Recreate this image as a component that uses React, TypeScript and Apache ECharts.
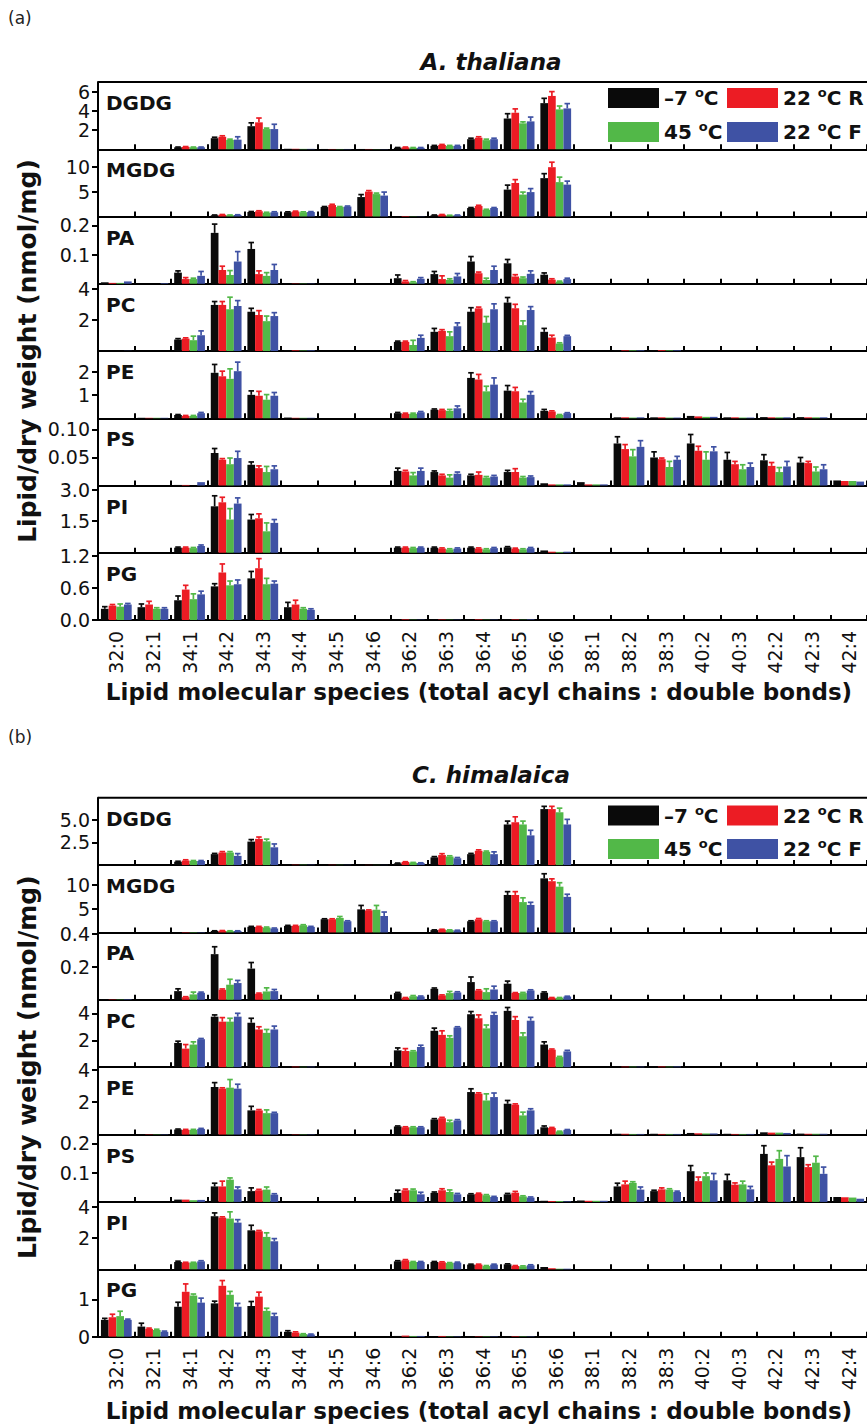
import React, { useEffect, useRef } from 'react';
import * as echarts from 'echarts';

const categories = ['32:0','32:1','34:1','34:2','34:3','34:4','34:5','34:6','36:2','36:3','36:4','36:5','36:6','38:1','38:2','38:3','40:2','40:3','42:2','42:3','42:4'];
const seriesNames = ['–7 °C', '22 °C R', '45 °C', '22 °C F'];
const lipidClasses = ['DGDG', 'MGDG', 'PA', 'PC', 'PE', 'PS', 'PI', 'PG'];
const colors = ['#0a0a0a', '#ec1c24', '#52b848', '#3f52a4'];

// ---------- A. thaliana (rows: -7 °C, 22 °C R, 45 °C, 22 °C F; columns: categories) ----------
const aDGDG = [
  [0,0,0.2,1.15,2.4,0.05,0.03,0.03,0.15,0.35,1.05,3.2,4.8,0,0,0,0,0,0,0,0],
  [0,0,0.25,1.3,2.8,0.05,0.03,0.03,0.2,0.45,1.2,3.8,5.55,0,0,0,0,0,0,0,0],
  [0,0,0.2,0.97,2.1,0.04,0.03,0.02,0.15,0.35,0.95,2.7,4.15,0,0,0,0,0,0,0,0],
  [0,0,0.2,1.0,2.1,0.04,0.03,0.02,0.15,0.35,1.05,2.9,4.25,0,0,0,0,0,0,0,0],
];
const aDGDGErr = [
  [0,0,0.03,0.1,0.35,0,0,0,0.03,0.05,0.1,0.5,0.5,0,0,0,0,0,0,0,0],
  [0,0,0.03,0.1,0.45,0,0,0,0.03,0.05,0.1,0.4,0.45,0,0,0,0,0,0,0,0],
  [0,0,0.03,0.08,0.1,0,0,0,0.03,0.05,0.1,0.15,0.35,0,0,0,0,0,0,0,0],
  [0,0,0.03,0.3,0.5,0,0,0,0.03,0.05,0.1,0.45,0.5,0,0,0,0,0,0,0,0],
];
const aMGDG = [
  [0,0,0,0.25,0.9,0.85,1.9,3.9,0.05,0.25,1.7,5.4,7.7,0,0,0,0,0,0,0,0],
  [0,0,0,0.35,1.05,1.0,2.3,5.0,0.1,0.35,2.1,6.7,9.9,0,0,0,0,0,0,0,0],
  [0,0,0,0.25,0.75,0.85,1.9,4.5,0.05,0.2,1.35,4.4,6.9,0,0,0,0,0,0,0,0],
  [0,0,0,0.3,0.85,0.9,2.0,4.2,0.05,0.25,1.7,4.9,6.4,0,0,0,0,0,0,0,0],
];
const aMGDGErr = [
  [0,0,0,0.05,0.1,0.08,0.1,0.5,0,0.05,0.1,0.9,0.9,0,0,0,0,0,0,0,0],
  [0,0,0,0.05,0.1,0.08,0.15,0.2,0,0.05,0.15,0.7,1.0,0,0,0,0,0,0,0,0],
  [0,0,0,0.05,0.1,0.08,0.1,0.2,0,0.05,0.1,0.5,1.0,0,0,0,0,0,0,0,0],
  [0,0,0,0.05,0.1,0.08,0.1,0.7,0,0.05,0.1,0.7,0.7,0,0,0,0,0,0,0,0],
];
const aPA = [
  [0.005,0,0.038,0.174,0.119,0.002,0,0.001,0.019,0.033,0.076,0.07,0.031,0,0,0,0,0,0,0,0],
  [0.003,0,0.016,0.047,0.033,0.001,0,0,0.008,0.016,0.036,0.025,0.014,0,0,0,0,0,0,0,0],
  [0.003,0,0.016,0.03,0.027,0.001,0,0,0.005,0.013,0.013,0.019,0.007,0,0,0,0,0,0,0,0],
  [0.008,0.002,0.027,0.076,0.047,0.001,0,0,0.017,0.025,0.047,0.034,0.016,0,0,0,0,0,0,0,0],
];
const aPAErr = [
  [0,0,0.006,0.03,0.022,0,0,0,0.011,0.009,0.017,0.013,0.006,0,0,0,0,0,0,0,0],
  [0,0,0.005,0.013,0.011,0,0,0,0.003,0.011,0.004,0.006,0.003,0,0,0,0,0,0,0,0],
  [0,0,0.003,0.015,0.011,0,0,0,0.002,0.004,0.006,0.004,0.002,0,0,0,0,0,0,0,0],
  [0,0,0.015,0.034,0.019,0,0,0,0.004,0.01,0.013,0.01,0.003,0,0,0,0,0,0,0,0],
];
const aPC = [
  [0,0,0.74,2.98,2.54,0.05,0,0,0.59,1.24,2.54,3.13,1.24,0,0.05,0.05,0,0,0,0,0],
  [0,0,0.8,2.98,2.33,0.04,0,0,0.59,1.3,2.76,2.76,0.87,0,0.04,0.05,0,0,0,0,0],
  [0,0,0.7,2.7,1.93,0.03,0,0,0.39,0.96,1.83,1.67,0.48,0,0.04,0.04,0,0,0,0,0],
  [0.01,0,1.02,2.91,2.26,0.04,0,0,0.85,1.6,2.7,2.65,0.96,0,0.04,0.04,0,0,0,0,0],
];
const aPCErr = [
  [0,0,0.06,0.22,0.22,0,0,0,0.05,0.22,0.26,0.33,0.22,0,0,0,0,0,0,0,0],
  [0,0,0.05,0.22,0.28,0,0,0,0.05,0.08,0.08,0.26,0.15,0,0,0,0,0,0,0,0],
  [0,0,0.26,0.78,0.33,0,0,0,0.3,0.28,0.4,0.28,0.05,0,0,0,0,0,0,0,0],
  [0,0,0.28,0.35,0.22,0,0,0,0.17,0.22,0.35,0.22,0.05,0,0,0,0,0,0,0,0],
];
const aPE = [
  [0,0.02,0.14,1.96,1.01,0.03,0,0,0.22,0.37,1.74,1.19,0.32,0,0.04,0.04,0.1,0.04,0.05,0.05,0],
  [0,0.02,0.1,1.81,0.97,0.02,0,0,0.19,0.35,1.67,1.16,0.29,0,0.04,0.04,0.08,0.04,0.04,0.04,0],
  [0,0.02,0.1,1.7,0.8,0.02,0,0,0.19,0.32,1.16,0.68,0.14,0,0.03,0.03,0.06,0.03,0.04,0.04,0],
  [0,0.02,0.22,2.03,0.97,0.02,0,0,0.26,0.43,1.45,1.01,0.22,0,0.04,0.03,0.06,0.03,0.04,0.04,0],
];
const aPEErr = [
  [0,0,0.02,0.36,0.17,0,0,0,0.03,0.03,0.22,0.22,0.06,0,0,0,0,0,0,0,0],
  [0,0,0.02,0.22,0.19,0,0,0,0.03,0.03,0.22,0.17,0.03,0,0,0,0,0,0,0,0],
  [0,0,0.02,0.43,0.22,0,0,0,0.03,0.06,0.22,0.14,0.02,0,0,0,0,0,0,0,0],
  [0,0,0.03,0.39,0.14,0,0,0,0.03,0.1,0.29,0.14,0.02,0,0,0,0,0,0,0,0],
];
const aPS = [
  [0,0,0.001,0.058,0.037,0,0,0,0.026,0.024,0.018,0.024,0.004,0.006,0.075,0.05,0.075,0.046,0.045,0.041,0.009],
  [0,0,0.001,0.046,0.031,0,0,0,0.025,0.018,0.019,0.024,0.002,0.002,0.065,0.047,0.062,0.038,0.035,0.04,0.008],
  [0,0,0,0.038,0.024,0,0,0,0.018,0.014,0.014,0.014,0.002,0.002,0.052,0.033,0.046,0.029,0.024,0.025,0.008],
  [0,0,0.006,0.049,0.029,0,0,0,0.026,0.021,0.016,0.015,0.002,0.002,0.069,0.046,0.061,0.033,0.034,0.029,0.007],
];
const aPSErr = [
  [0,0,0,0.008,0.005,0,0,0,0.005,0.002,0.002,0.003,0,0,0.012,0.01,0.016,0.013,0.01,0.009,0],
  [0,0,0,0.002,0.004,0,0,0,0.002,0.002,0.005,0.006,0,0,0.008,0.002,0.008,0.005,0.006,0.003,0],
  [0,0,0,0.011,0.01,0,0,0,0.005,0.005,0.002,0.002,0,0,0.012,0.01,0.014,0.008,0.008,0.008,0],
  [0,0,0,0.012,0.006,0,0,0,0.005,0.003,0.002,0.002,0,0,0.011,0.006,0.008,0.007,0.009,0.008,0],
];
const aPI = [
  [0,0,0.24,2.21,1.58,0,0,0,0.24,0.24,0.24,0.26,0.11,0,0,0,0,0,0,0,0],
  [0,0,0.24,2.4,1.64,0,0,0,0.24,0.2,0.2,0.19,0.05,0,0,0,0,0,0,0,0],
  [0,0,0.22,1.58,1.02,0,0,0,0.22,0.16,0.16,0.16,0.04,0,0,0,0,0,0,0,0],
  [0,0,0.32,2.34,1.42,0,0,0,0.24,0.2,0.22,0.22,0.05,0,0,0,0,0,0,0,0],
];
const aPIErr = [
  [0,0,0.03,0.5,0.24,0,0,0,0.03,0.03,0.03,0.03,0,0,0,0,0,0,0,0,0],
  [0,0,0.03,0.24,0.21,0,0,0,0.03,0.03,0.03,0.03,0,0,0,0,0,0,0,0,0],
  [0,0,0.03,0.52,0.4,0,0,0,0.03,0.03,0.03,0.03,0,0,0,0,0,0,0,0,0],
  [0,0,0.05,0.27,0.16,0,0,0,0.03,0.03,0.03,0.03,0,0,0,0,0,0,0,0,0],
];
const aPG = [
  [0.21,0.24,0.37,0.63,0.78,0.24,0,0,0.005,0.005,0.005,0.01,0,0,0,0,0,0,0,0,0],
  [0.27,0.29,0.57,0.89,0.97,0.29,0,0,0.01,0.008,0.01,0.008,0,0,0,0,0,0,0,0,0],
  [0.25,0.21,0.39,0.65,0.67,0.21,0,0,0.005,0.005,0.005,0.005,0,0,0,0,0,0,0,0,0],
  [0.29,0.21,0.48,0.67,0.68,0.19,0,0,0.005,0.005,0.005,0.01,0,0,0,0,0,0,0,0,0],
];
const aPGErr = [
  [0.04,0.06,0.08,0.05,0.13,0.09,0,0,0,0,0,0,0,0,0,0,0,0,0,0,0],
  [0.02,0.06,0.08,0.16,0.18,0.08,0,0,0,0,0,0,0,0,0,0,0,0,0,0,0],
  [0.05,0.02,0.1,0.08,0.11,0.02,0,0,0,0,0,0,0,0,0,0,0,0,0,0,0],
  [0.02,0.02,0.06,0.08,0.05,0.02,0,0,0,0,0,0,0,0,0,0,0,0,0,0,0],
];

// ---------- C. himalaica ----------
const bDGDG = [
  [0,0,0.37,1.2,2.58,0.05,0.03,0.02,0.19,0.85,1.2,4.46,6.15,0,0,0,0,0,0,0,0],
  [0,0,0.5,1.38,2.88,0.04,0.03,0.02,0.34,1.1,1.57,4.7,6.15,0,0,0,0,0,0,0,0],
  [0,0,0.45,1.38,2.6,0.04,0.03,0.02,0.26,0.94,1.46,4.46,5.8,0,0,0,0,0,0,0,0],
  [0,0,0.45,1.01,1.95,0.04,0.03,0.02,0.22,0.75,1.2,3.26,4.46,0,0,0,0,0,0,0,0],
];
const bDGDGErr = [
  [0,0,0.05,0.08,0.22,0,0,0,0.03,0.08,0.08,0.37,0.3,0,0,0,0,0,0,0,0],
  [0,0,0.08,0.1,0.2,0,0,0,0.03,0.15,0.1,0.6,0.3,0,0,0,0,0,0,0,0],
  [0,0,0.05,0.1,0.25,0,0,0,0.03,0.08,0.08,0.37,0.45,0,0,0,0,0,0,0,0],
  [0,0,0.05,0.25,0.37,0,0,0,0.03,0.08,0.25,0.56,0.56,0,0,0,0,0,0,0,0],
];
const bMGDG = [
  [0,0,0.08,0.3,1.18,1.39,2.78,4.86,0,0.49,2.36,7.9,11.4,0,0,0,0,0,0,0,0],
  [0,0,0.08,0.35,1.18,1.39,2.78,4.65,0,0.62,2.78,7.9,10.8,0,0,0,0,0,0,0,0],
  [0,0,0.08,0.3,1.04,1.53,3.06,4.79,0,0.49,2.36,6.4,9.65,0,0,0,0,0,0,0,0],
  [0,0,0.08,0.3,0.83,1.18,2.36,3.47,0,0.42,2.36,5.8,7.5,0,0,0,0,0,0,0,0],
];
const bMGDGErr = [
  [0,0,0,0.05,0.1,0.1,0.1,0.83,0,0.05,0.1,0.7,0.97,0,0,0,0,0,0,0,0],
  [0,0,0,0.05,0.1,0.1,0.1,0.1,0,0.05,0.15,0.7,0.5,0,0,0,0,0,0,0,0],
  [0,0,0,0.05,0.1,0.1,0.3,0.9,0,0.05,0.1,0.9,0.83,0,0,0,0,0,0,0,0],
  [0,0,0,0.05,0.1,0.1,0.1,0.83,0,0.05,0.1,0.55,0.55,0,0,0,0,0,0,0,0],
];
const bPA = [
  [0.002,0,0.053,0.278,0.19,0,0,0,0.041,0.067,0.108,0.098,0.043,0,0,0,0,0,0,0,0],
  [0.002,0,0.016,0.061,0.037,0,0,0,0.012,0.027,0.057,0.041,0.012,0,0,0,0,0,0,0,0],
  [0.002,0,0.033,0.092,0.051,0,0,0,0.022,0.041,0.047,0.041,0.012,0,0,0,0,0,0,0,0],
  [0.003,0,0.043,0.102,0.053,0,0,0,0.02,0.045,0.063,0.057,0.02,0,0,0,0,0,0,0,0],
];
const bPAErr = [
  [0,0,0.014,0.045,0.037,0,0,0,0.004,0.005,0.031,0.016,0.005,0,0,0,0,0,0,0,0],
  [0,0,0.003,0.005,0.004,0,0,0,0.002,0.003,0.004,0.003,0.002,0,0,0,0,0,0,0,0],
  [0,0,0.014,0.033,0.022,0,0,0,0.004,0.01,0.02,0.004,0.002,0,0,0,0,0,0,0,0],
  [0,0,0.004,0.016,0.01,0,0,0,0.003,0.004,0.02,0.004,0.002,0,0,0,0,0,0,0,0],
];
const bPC = [
  [0,0,1.8,3.75,3.3,0.05,0,0,1.25,2.7,3.93,4.18,1.68,0,0.05,0.05,0,0,0,0,0],
  [0,0,1.38,3.38,2.8,0.04,0,0,1.2,2.4,3.63,3.5,1.3,0,0.04,0.05,0,0,0,0,0],
  [0,0,1.68,3.38,2.55,0.03,0,0,1.17,2.18,2.88,2.3,0.75,0,0.04,0.04,0,0,0,0,0],
  [0,0,2.08,3.75,2.8,0.04,0,0,1.5,2.95,3.88,3.45,1.17,0,0.04,0.05,0,0,0,0,0],
];
const bPCErr = [
  [0,0,0.13,0.13,0.33,0,0,0,0.18,0.2,0.2,0.25,0.2,0,0,0,0,0,0,0,0],
  [0,0,0.3,0.3,0.2,0,0,0,0.18,0.3,0.25,0.25,0.05,0,0,0,0,0,0,0,0],
  [0,0,0.2,0.25,0.25,0,0,0,0.05,0.15,0.25,0.25,0.05,0,0,0,0,0,0,0,0],
  [0,0,0.05,0.25,0.25,0,0,0,0.13,0.05,0.18,0.25,0.08,0,0,0,0,0,0,0,0],
];
const bPE = [
  [0,0.03,0.31,2.93,1.49,0.03,0,0,0.5,0.93,2.62,1.9,0.45,0,0.05,0.05,0.1,0.05,0.14,0.06,0],
  [0,0.02,0.29,2.83,1.49,0.02,0,0,0.45,1.01,2.52,1.84,0.41,0,0.05,0.04,0.08,0.04,0.12,0.05,0],
  [0,0.02,0.29,2.89,1.32,0.02,0,0,0.45,0.76,2.1,1.18,0.19,0,0.04,0.04,0.07,0.04,0.12,0.05,0],
  [0,0.02,0.35,2.83,1.32,0.02,0,0,0.45,0.87,2.31,1.49,0.29,0,0.04,0.04,0.07,0.04,0.1,0.05,0],
];
const bPEErr = [
  [0,0,0.03,0.27,0.25,0,0,0,0.03,0.05,0.2,0.2,0.08,0,0,0,0,0,0,0,0],
  [0,0,0.03,0.05,0.05,0,0,0,0.03,0.05,0.05,0.05,0.03,0,0,0,0,0,0,0,0],
  [0,0,0.03,0.5,0.2,0,0,0,0.03,0.12,0.41,0.2,0.02,0,0,0,0,0,0,0,0],
  [0,0,0.03,0.27,0.05,0,0,0,0.03,0.05,0.25,0.1,0.02,0,0,0,0,0,0,0,0],
];
const bPS = [
  [0,0,0.008,0.053,0.037,0,0,0,0.031,0.031,0.026,0.026,0.004,0.005,0.053,0.037,0.105,0.074,0.164,0.153,0.017],
  [0,0,0.008,0.053,0.04,0,0,0,0.04,0.04,0.028,0.031,0.003,0.004,0.06,0.043,0.071,0.059,0.125,0.119,0.016],
  [0,0,0.006,0.076,0.042,0,0,0,0.04,0.034,0.023,0.019,0.003,0.004,0.065,0.042,0.088,0.06,0.147,0.134,0.015],
  [0,0,0.007,0.043,0.025,0,0,0,0.026,0.026,0.017,0.015,0.002,0.004,0.042,0.034,0.074,0.043,0.121,0.096,0.011],
];
const bPSErr = [
  [0,0,0,0.011,0.011,0,0,0,0.009,0.003,0.002,0.003,0,0,0.011,0.003,0.019,0.02,0.028,0.032,0],
  [0,0,0,0.018,0.003,0,0,0,0.004,0.005,0.002,0.005,0,0,0.011,0.005,0.014,0.006,0.011,0.008,0],
  [0,0,0,0.006,0.009,0,0,0,0.004,0.007,0.002,0.002,0,0,0.004,0.003,0.011,0.011,0.028,0.022,0],
  [0,0,0,0.008,0.003,0,0,0,0.007,0.003,0.002,0.002,0,0,0.009,0.003,0.023,0.01,0.037,0.023,0],
];
const bPI = [
  [0,0,0.47,3.39,2.49,0,0,0,0.51,0.47,0.3,0.32,0.15,0,0,0,0,0,0,0,0],
  [0,0,0.43,3.3,2.43,0,0,0,0.58,0.45,0.3,0.21,0.07,0,0,0,0,0,0,0,0],
  [0,0,0.43,3.24,2.07,0,0,0,0.47,0.4,0.21,0.19,0.04,0,0,0,0,0,0,0,0],
  [0,0,0.51,2.98,1.79,0,0,0,0.47,0.43,0.3,0.26,0.04,0,0,0,0,0,0,0,0],
];
const bPIErr = [
  [0,0,0.05,0.21,0.32,0,0,0,0.04,0.03,0.03,0.03,0,0,0,0,0,0,0,0,0],
  [0,0,0.02,0.05,0.05,0,0,0,0.04,0.03,0.03,0.03,0,0,0,0,0,0,0,0,0],
  [0,0,0.02,0.43,0.26,0,0,0,0.03,0.03,0.03,0.03,0,0,0,0,0,0,0,0,0],
  [0,0,0.04,0.19,0.17,0,0,0,0.03,0.03,0.03,0.03,0,0,0,0,0,0,0,0,0],
];
const bPG = [
  [0.45,0.27,0.8,0.89,0.82,0.13,0,0,0.02,0.01,0.01,0.01,0,0,0,0,0,0,0,0,0],
  [0.52,0.21,1.2,1.36,1.07,0.11,0,0,0.03,0.02,0.01,0.01,0,0,0,0,0,0,0,0,0],
  [0.55,0.18,1.1,1.12,0.69,0.07,0,0,0.02,0.01,0.01,0.01,0,0,0,0,0,0,0,0,0],
  [0.45,0.13,0.91,0.8,0.55,0.06,0,0,0.02,0.01,0.01,0.01,0,0,0,0,0,0,0,0,0],
];
const bPGErr = [
  [0.04,0.09,0.12,0.06,0.12,0.03,0,0,0,0,0,0,0,0,0,0,0,0,0,0,0],
  [0.08,0.02,0.21,0.14,0.12,0.02,0,0,0,0,0,0,0,0,0,0,0,0,0,0,0],
  [0.13,0.02,0.04,0.09,0.07,0.01,0,0,0,0,0,0,0,0,0,0,0,0,0,0,0],
  [0.02,0.02,0.12,0.09,0.07,0.01,0,0,0,0,0,0,0,0,0,0,0,0,0,0,0],
];

// axis scales (tick labels)
const aYMax = [7, 13.5, 0.23, 4.35, 2.9, 0.12, 3.2, 1.26];
const aYTicks = [[2, 4, 6], [5, 10], [0.1, 0.2], [2, 4], [1, 2], [0.05, 0.1], [1.5, 3], [0, 0.6, 1.2]];
const aYDecimals = [0, 0, 1, 0, 0, 2, 1, 1];
const bYMax = [7.4, 14.2, 0.41, 5, 4.15, 0.23, 4.3, 1.8];
const bYTicks = [[2.5, 5], [5, 10], [0.2, 0.4], [2, 4], [2, 4], [0.1, 0.2], [2, 4], [0, 1]];
const bYDecimals = [1, 0, 1, 0, 0, 1, 0, 0];

const aValues = [aDGDG, aMGDG, aPA, aPC, aPE, aPS, aPI, aPG];
const aErrors = [aDGDGErr, aMGDGErr, aPAErr, aPCErr, aPEErr, aPSErr, aPIErr, aPGErr];
const bValues = [bDGDG, bMGDG, bPA, bPC, bPE, bPS, bPI, bPG];
const bErrors = [bDGDGErr, bMGDGErr, bPAErr, bPCErr, bPEErr, bPSErr, bPIErr, bPGErr];

const FONT = 'DejaVu Sans';
const GAP = 0.16;
const GRID_LEFT = 98;
const GRID_WIDTH = 771.5;

function errorRender(params: any, api: any) {
  const k = api.value(0);
  const s = api.value(1);
  const v = api.value(2);
  const e = api.value(3);
  const base = api.coord([k, v]);
  const top = api.coord([k, v + e]);
  const band = api.size([1, 0])[0];
  const bw = (band * (1 - GAP)) / 4;
  const x = base[0] + (s - 1.5) * bw;
  const cap = bw * 0.36;
  const st = { stroke: colors[s], lineWidth: 1.7 };
  return {
    type: 'group',
    children: [
      { type: 'line', shape: { x1: x, y1: base[1], x2: x, y2: top[1] }, style: st },
      { type: 'line', shape: { x1: x - cap, y1: top[1], x2: x + cap, y2: top[1] }, style: st },
    ],
  };
}

function buildPanel(cfg: any, out: any) {
  const { values, errors, yMax, yTicks, yDec, top, h, offset, title, tag, tagY, titleY, xTitleY, legendY } = cfg;
  for (let i = 0; i < 8; i++) {
    const gi = offset + i;
    out.grid.push({ left: GRID_LEFT, width: GRID_WIDTH, top: top + i * h, height: h });
    out.xAxis.push({
      type: 'category',
      gridIndex: gi,
      data: categories,
      boundaryGap: true,
      axisLine: { show: true, lineStyle: { color: '#000', width: 2 } },
      axisTick: { show: true, inside: true, length: 5, interval: 0, lineStyle: { color: '#000', width: 2 } },
      axisLabel: i === 7
        ? { show: true, interval: 0, rotate: 90, fontSize: 19, fontFamily: FONT, color: '#111', margin: 11 }
        : { show: false },
      splitLine: { show: false },
    });
    const dec = yDec[i];
    out.yAxis.push({
      type: 'value',
      gridIndex: gi,
      min: 0,
      max: yMax[i],
      axisLine: { show: true, lineStyle: { color: '#000', width: 2 } },
      axisTick: { show: true, length: 6, customValues: yTicks[i], lineStyle: { color: '#000', width: 2 } },
      axisLabel: {
        show: true,
        customValues: yTicks[i],
        formatter: (v: number) => v.toFixed(dec),
        fontSize: 19,
        fontFamily: FONT,
        color: '#111',
        margin: 8,
      },
      splitLine: { show: false },
    });
    for (let s = 0; s < 4; s++) {
      out.series.push({
        type: 'bar',
        name: seriesNames[s],
        xAxisIndex: gi,
        yAxisIndex: gi,
        data: values[i][s],
        itemStyle: { color: colors[s] },
        barGap: '0%',
        barCategoryGap: GAP * 100 + '%',
        silent: true,
      });
    }
    const errData: number[][] = [];
    for (let s = 0; s < 4; s++) {
      for (let k = 0; k < categories.length; k++) {
        const e = errors[i][s][k];
        if (e > 0) errData.push([k, s, values[i][s][k], e]);
      }
    }
    out.series.push({
      type: 'custom',
      xAxisIndex: gi,
      yAxisIndex: gi,
      renderItem: errorRender,
      data: errData,
      encode: { x: 0, y: 2 },
      clip: false,
      silent: true,
      z: 3,
    });
    out.graphic.push({
      type: 'text',
      x: 106,
      y: top + i * h + 21,
      style: {
        text: lipidClasses[i],
        font: `bold 20px "${FONT}"`,
        fill: '#111',
        align: 'left',
        verticalAlign: 'middle',
        textAlign: 'left',
        textVerticalAlign: 'middle',
      },
    });
  }
  // top frame line
  out.graphic.push({
    type: 'line',
    shape: { x1: GRID_LEFT, y1: top, x2: 867, y2: top },
    style: { stroke: '#000', lineWidth: 2 },
  });
  // panel tag
  out.graphic.push({
    type: 'text', x: 8, y: tagY,
    style: { text: tag, font: `17px "${FONT}"`, fill: '#222', align: 'left', verticalAlign: 'middle', textAlign: 'left', textVerticalAlign: 'middle' },
  });
  // title
  out.graphic.push({
    type: 'text', x: 491, y: titleY,
    style: { text: title, font: `italic bold 23px "${FONT}"`, fill: '#111', align: 'center', verticalAlign: 'middle', textAlign: 'center', textVerticalAlign: 'middle' },
  });
  // y title
  out.graphic.push({
    type: 'text', x: 27, y: top + 4 * h, rotation: Math.PI / 2,
    style: { text: 'Lipid/dry weight (nmol/mg)', font: `bold 25px "${FONT}"`, fill: '#111', align: 'center', verticalAlign: 'middle', textAlign: 'center', textVerticalAlign: 'middle' },
  });
  // x title
  out.graphic.push({
    type: 'text', x: 479, y: xTitleY,
    style: { text: 'Lipid molecular species (total acyl chains : double bonds)', font: `bold 23px "${FONT}"`, fill: '#111', align: 'center', verticalAlign: 'middle', textAlign: 'center', textVerticalAlign: 'middle' },
  });
  // legend
  const legendLabels = [
    ['–7 ', 'C'],
    ['22 ', 'C R'],
    ['45 ', 'C'],
    ['22 ', 'C F'],
  ];
  for (let s = 0; s < 4; s++) {
    const col = s % 2;
    const row = Math.floor(s / 2);
    const rx = col === 0 ? 608 : 727;
    const ry = legendY[row];
    out.graphic.push({
      type: 'rect',
      shape: { x: rx, y: ry - 10, width: 51, height: 20 },
      style: { fill: colors[s] },
    });
    out.graphic.push({
      type: 'text', x: rx + 56, y: ry,
      style: {
        text: `{m|${legendLabels[s][0]}}{s|o}{m|${legendLabels[s][1]}}`,
        align: 'left', verticalAlign: 'middle', textAlign: 'left', textVerticalAlign: 'middle',
        rich: {
          m: { fontFamily: FONT, fontWeight: 'bold', fontSize: 20, fill: '#111', lineHeight: 24, verticalAlign: 'middle' },
          s: { fontFamily: FONT, fontWeight: 'bold', fontSize: 13, fill: '#111', lineHeight: 24, verticalAlign: 'top' },
        },
      },
    });
  }
}

export default function App() {
  const ref = useRef<HTMLDivElement>(null);
  useEffect(() => {
    document.body.style.margin = '0';
    if (!ref.current) return;
    const chart = echarts.init(ref.current, undefined, { renderer: 'svg' });
    const out: any = { grid: [], xAxis: [], yAxis: [], series: [], graphic: [] };
    buildPanel({
      values: aValues, errors: aErrors, yMax: aYMax, yTicks: aYTicks, yDec: aYDecimals,
      top: 82, h: 67.25, offset: 0, title: 'A. thaliana', tag: '(a)', tagY: 18, titleY: 62, xTitleY: 692,
      legendY: [98, 132],
    }, out);
    buildPanel({
      values: bValues, errors: bErrors, yMax: bYMax, yTicks: bYTicks, yDec: bYDecimals,
      top: 797.7, h: 67.375, offset: 8, title: 'C. himalaica', tag: '(b)', tagY: 737, titleY: 775, xTitleY: 1411,
      legendY: [815.5, 849],
    }, out);
    chart.setOption({
      animation: false,
      backgroundColor: '#fff',
      textStyle: { fontFamily: FONT },
      grid: out.grid,
      xAxis: out.xAxis,
      yAxis: out.yAxis,
      series: out.series,
      graphic: { elements: out.graphic },
    });
    return () => chart.dispose();
  }, []);
  return (
    <div
      ref={ref}
      style={{ position: 'absolute', left: 0, top: 0, width: 867, height: 1425, background: '#fff' }}
    />
  );
}
